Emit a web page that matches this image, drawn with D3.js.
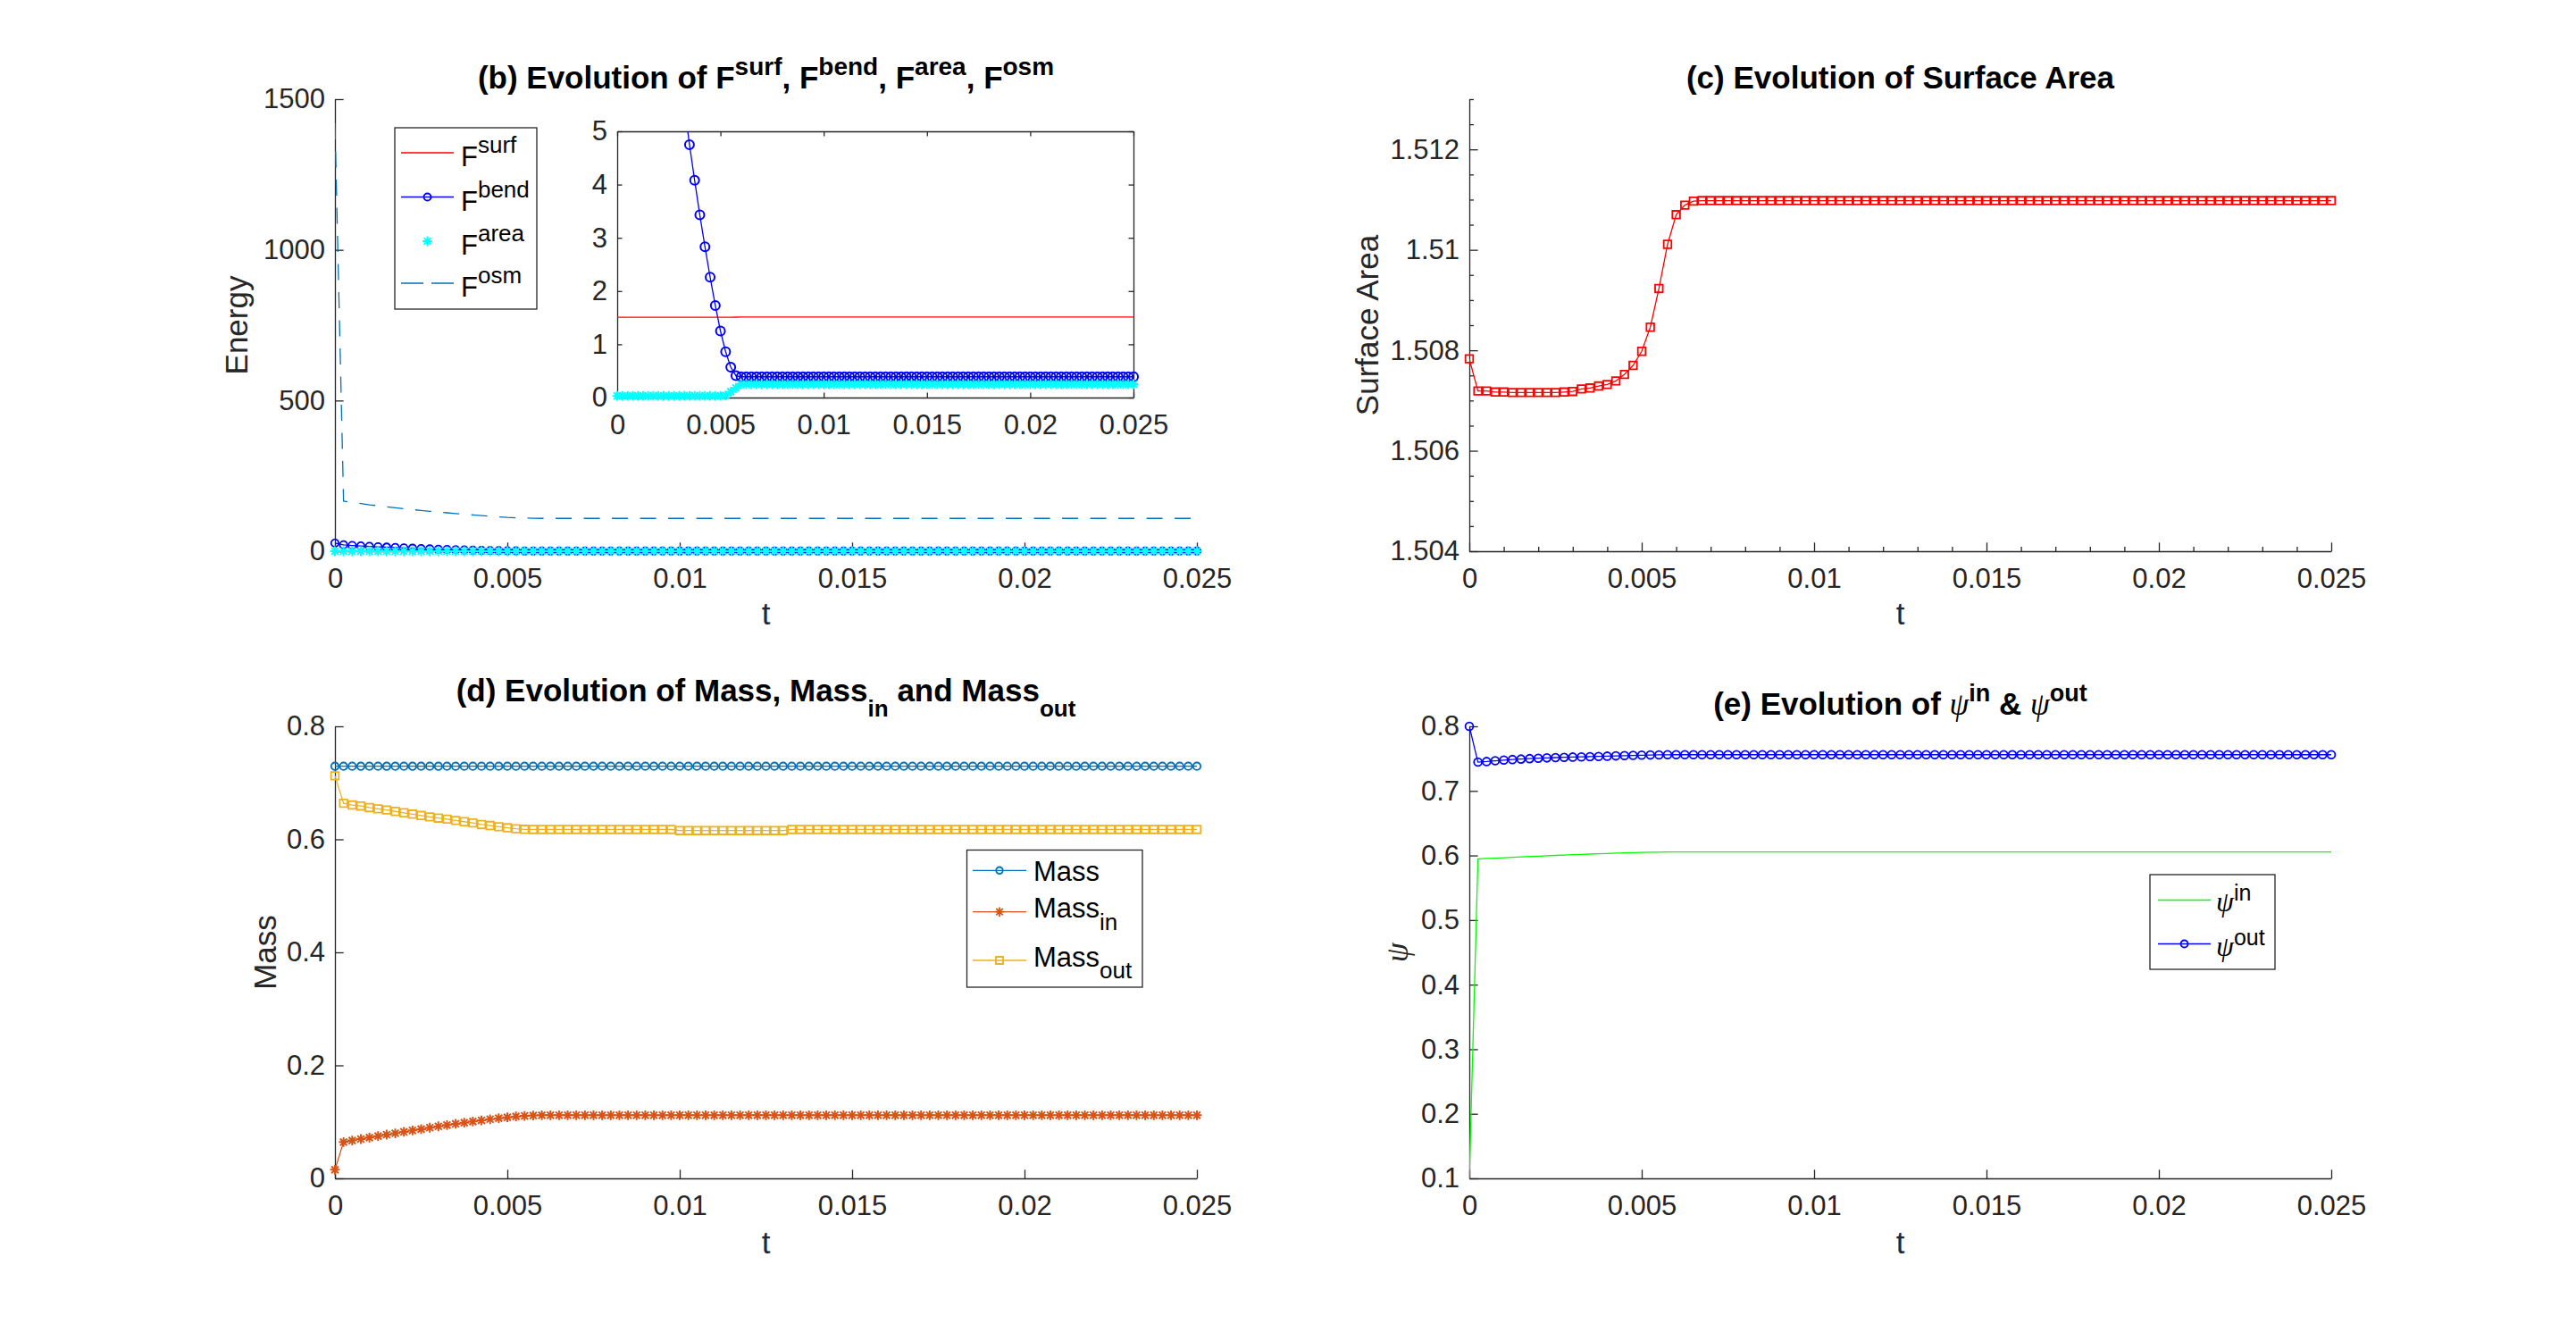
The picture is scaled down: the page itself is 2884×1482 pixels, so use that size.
<!DOCTYPE html>
<html>
<head>
<meta charset="utf-8">
<script src="https://cdn.jsdelivr.net/npm/d3@7/dist/d3.min.js"></script>
<style>
  html, body { margin: 0; padding: 0; background: #fff; }
  svg { display: block; }
</style>
</head>
<body>
<div class="js-board"></div>
<script>
// time steps (dt = 0.00025)
var tSteps = [
  0, 0.00025, 0.0005, 0.00075, 0.001, 0.00125, 0.0015, 0.00175, 0.002, 0.00225,
  0.0025, 0.00275, 0.003, 0.00325, 0.0035, 0.00375, 0.004, 0.00425, 0.0045, 0.00475,
  0.005, 0.00525, 0.0055, 0.00575, 0.006, 0.00625, 0.0065, 0.00675, 0.007, 0.00725,
  0.0075, 0.00775, 0.008, 0.00825, 0.0085, 0.00875, 0.009, 0.00925, 0.0095, 0.00975,
  0.01, 0.01025, 0.0105, 0.01075, 0.011, 0.01125, 0.0115, 0.01175, 0.012, 0.01225,
  0.0125, 0.01275, 0.013, 0.01325, 0.0135, 0.01375, 0.014, 0.01425, 0.0145, 0.01475,
  0.015, 0.01525, 0.0155, 0.01575, 0.016, 0.01625, 0.0165, 0.01675, 0.017, 0.01725,
  0.0175, 0.01775, 0.018, 0.01825, 0.0185, 0.01875, 0.019, 0.01925, 0.0195, 0.01975,
  0.02, 0.02025, 0.0205, 0.02075, 0.021, 0.02125, 0.0215, 0.02175, 0.022, 0.02225,
  0.0225, 0.02275, 0.023, 0.02325, 0.0235, 0.02375, 0.024, 0.02425, 0.0245, 0.02475,
  0.025
];

// (c) surface area
var surfaceArea = [
  1.50783, 1.50719, 1.50719, 1.50717, 1.50717, 1.50716, 1.50716, 1.50716, 1.50716, 1.50716,
  1.50716, 1.50717, 1.50718, 1.50723, 1.50725, 1.50729, 1.50732, 1.50739, 1.50752, 1.50770,
  1.50798, 1.50846, 1.50923, 1.51011, 1.51070, 1.51089, 1.51097, 1.51098, 1.51098, 1.51098,
  1.51098, 1.51098, 1.51098, 1.51098, 1.51098, 1.51098, 1.51098, 1.51098, 1.51098, 1.51098,
  1.51098, 1.51098, 1.51098, 1.51098, 1.51098, 1.51098, 1.51098, 1.51098, 1.51098, 1.51098,
  1.51098, 1.51098, 1.51098, 1.51098, 1.51098, 1.51098, 1.51098, 1.51098, 1.51098, 1.51098,
  1.51098, 1.51098, 1.51098, 1.51098, 1.51098, 1.51098, 1.51098, 1.51098, 1.51098, 1.51098,
  1.51098, 1.51098, 1.51098, 1.51098, 1.51098, 1.51098, 1.51098, 1.51098, 1.51098, 1.51098,
  1.51098, 1.51098, 1.51098, 1.51098, 1.51098, 1.51098, 1.51098, 1.51098, 1.51098, 1.51098,
  1.51098, 1.51098, 1.51098, 1.51098, 1.51098, 1.51098, 1.51098, 1.51098, 1.51098, 1.51098,
  1.51098
];

// (b) energies; F_surf tracks the surface area (sigma = 1)
var fSurf = surfaceArea;
var fBend = [
  27, 21, 19, 17.5, 16, 14.7, 13.4, 12.2, 11, 9.8,
  8.7, 7.6, 6.5, 5.5, 4.75, 4.08, 3.43, 2.83, 2.26, 1.73,
  1.25, 0.86, 0.57, 0.41, 0.39, 0.39, 0.39, 0.39, 0.39, 0.39,
  0.39, 0.39, 0.39, 0.39, 0.39, 0.39, 0.39, 0.39, 0.39, 0.39,
  0.39, 0.39, 0.39, 0.39, 0.39, 0.39, 0.39, 0.39, 0.39, 0.39,
  0.39, 0.39, 0.39, 0.39, 0.39, 0.39, 0.39, 0.39, 0.39, 0.39,
  0.39, 0.39, 0.39, 0.39, 0.39, 0.39, 0.39, 0.39, 0.39, 0.39,
  0.39, 0.39, 0.39, 0.39, 0.39, 0.39, 0.39, 0.39, 0.39, 0.39,
  0.39, 0.39, 0.39, 0.39, 0.39, 0.39, 0.39, 0.39, 0.39, 0.39,
  0.39, 0.39, 0.39, 0.39, 0.39, 0.39, 0.39, 0.39, 0.39, 0.39,
  0.39
];
var fArea = [
  0.03, 0.03, 0.03, 0.03, 0.03, 0.03, 0.03, 0.03, 0.03, 0.03,
  0.03, 0.03, 0.03, 0.03, 0.03, 0.03, 0.03, 0.03, 0.03, 0.03,
  0.03, 0.04, 0.11, 0.18, 0.25, 0.25, 0.25, 0.25, 0.25, 0.25,
  0.25, 0.25, 0.25, 0.25, 0.25, 0.25, 0.25, 0.25, 0.25, 0.25,
  0.25, 0.25, 0.25, 0.25, 0.25, 0.25, 0.25, 0.25, 0.25, 0.25,
  0.25, 0.25, 0.25, 0.25, 0.25, 0.25, 0.25, 0.25, 0.25, 0.25,
  0.25, 0.25, 0.25, 0.25, 0.25, 0.25, 0.25, 0.25, 0.25, 0.25,
  0.25, 0.25, 0.25, 0.25, 0.25, 0.25, 0.25, 0.25, 0.25, 0.25,
  0.25, 0.25, 0.25, 0.25, 0.25, 0.25, 0.25, 0.25, 0.25, 0.25,
  0.25, 0.25, 0.25, 0.25, 0.25, 0.25, 0.25, 0.25, 0.25, 0.25,
  0.25
];
var fOsm = [
  1420, 166, 162, 158, 154, 151, 147.5, 144, 141, 138,
  135, 132.5, 130, 127.5, 125, 122.5, 120.5, 118.5, 116, 114,
  112, 111, 110, 109.5, 109, 109, 109, 109, 109, 109,
  109, 109, 109, 109, 109, 109, 109, 109, 109, 109,
  109, 109, 109, 109, 109, 109, 109, 109, 109, 109,
  109, 109, 109, 109, 109, 109, 109, 109, 109, 109,
  109, 109, 109, 109, 109, 109, 109, 109, 109, 109,
  109, 109, 109, 109, 109, 109, 109, 109, 109, 109,
  109, 109, 109, 109, 109, 109, 109, 109, 109, 109,
  109, 109, 109, 109, 109, 109, 109, 109, 109, 109,
  109
];

// (d) masses
var mass = [
  0.7293, 0.7293, 0.7293, 0.7293, 0.7293, 0.7293, 0.7293, 0.7293, 0.7293, 0.7293,
  0.7293, 0.7293, 0.7293, 0.7293, 0.7293, 0.7293, 0.7293, 0.7293, 0.7293, 0.7293,
  0.7293, 0.7293, 0.7293, 0.7293, 0.7293, 0.7293, 0.7293, 0.7293, 0.7293, 0.7293,
  0.7293, 0.7293, 0.7293, 0.7293, 0.7293, 0.7293, 0.7293, 0.7293, 0.7293, 0.7293,
  0.7293, 0.7293, 0.7293, 0.7293, 0.7293, 0.7293, 0.7293, 0.7293, 0.7293, 0.7293,
  0.7293, 0.7293, 0.7293, 0.7293, 0.7293, 0.7293, 0.7293, 0.7293, 0.7293, 0.7293,
  0.7293, 0.7293, 0.7293, 0.7293, 0.7293, 0.7293, 0.7293, 0.7293, 0.7293, 0.7293,
  0.7293, 0.7293, 0.7293, 0.7293, 0.7293, 0.7293, 0.7293, 0.7293, 0.7293, 0.7293,
  0.7293, 0.7293, 0.7293, 0.7293, 0.7293, 0.7293, 0.7293, 0.7293, 0.7293, 0.7293,
  0.7293, 0.7293, 0.7293, 0.7293, 0.7293, 0.7293, 0.7293, 0.7293, 0.7293, 0.7293,
  0.7293
];
var massIn = [
  0.0153, 0.0643, 0.0670, 0.0696, 0.0722, 0.0749, 0.0775, 0.0798, 0.0823, 0.0849,
  0.0871, 0.0897, 0.0921, 0.0944, 0.0965, 0.0986, 0.1007, 0.1027, 0.1047, 0.1065,
  0.1081, 0.1096, 0.1106, 0.1113, 0.1117, 0.1118, 0.1118, 0.1118, 0.1118, 0.1118,
  0.1118, 0.1118, 0.1118, 0.1118, 0.1118, 0.1118, 0.1118, 0.1118, 0.1118, 0.1118,
  0.1118, 0.1118, 0.1118, 0.1118, 0.1118, 0.1118, 0.1118, 0.1118, 0.1118, 0.1118,
  0.1118, 0.1118, 0.1118, 0.1118, 0.1118, 0.1118, 0.1118, 0.1118, 0.1118, 0.1118,
  0.1118, 0.1118, 0.1118, 0.1118, 0.1118, 0.1118, 0.1118, 0.1118, 0.1118, 0.1118,
  0.1118, 0.1118, 0.1118, 0.1118, 0.1118, 0.1118, 0.1118, 0.1118, 0.1118, 0.1118,
  0.1118, 0.1118, 0.1118, 0.1118, 0.1118, 0.1118, 0.1118, 0.1118, 0.1118, 0.1118,
  0.1118, 0.1118, 0.1118, 0.1118, 0.1118, 0.1118, 0.1118, 0.1118, 0.1118, 0.1118,
  0.1118
];
var massOut = [
  0.7124, 0.6639, 0.6608, 0.6590, 0.6562, 0.6540, 0.6520, 0.6494, 0.6470, 0.6446,
  0.6422, 0.6398, 0.6376, 0.6358, 0.6334, 0.6312, 0.6290, 0.6262, 0.6244, 0.6223,
  0.6205, 0.6188, 0.6177, 0.6175, 0.6175, 0.6175, 0.6175, 0.6175, 0.6175, 0.6175,
  0.6175, 0.6175, 0.6175, 0.6175, 0.6175, 0.6175, 0.6175, 0.6175, 0.6175, 0.6175,
  0.6155, 0.6155, 0.6155, 0.6155, 0.6155, 0.6155, 0.6155, 0.6155, 0.6155, 0.6155,
  0.6155, 0.6155, 0.6155, 0.6175, 0.6175, 0.6175, 0.6175, 0.6175, 0.6175, 0.6175,
  0.6175, 0.6175, 0.6175, 0.6175, 0.6175, 0.6175, 0.6175, 0.6175, 0.6175, 0.6175,
  0.6175, 0.6175, 0.6175, 0.6175, 0.6175, 0.6175, 0.6175, 0.6175, 0.6175, 0.6175,
  0.6175, 0.6175, 0.6175, 0.6175, 0.6175, 0.6175, 0.6175, 0.6175, 0.6175, 0.6175,
  0.6175, 0.6175, 0.6175, 0.6175, 0.6175, 0.6175, 0.6175, 0.6175, 0.6175, 0.6175,
  0.6175
];

// (e) psi
var psiIn = [
  0.1, 0.5946, 0.5953, 0.5959, 0.5966, 0.5972, 0.5978, 0.5984, 0.5990, 0.5996,
  0.6001, 0.6007, 0.6012, 0.6017, 0.6022, 0.6027, 0.6031, 0.6036, 0.6040, 0.6043,
  0.6047, 0.6050, 0.6052, 0.6054, 0.6054, 0.6054, 0.6054, 0.6054, 0.6054, 0.6054,
  0.6054, 0.6054, 0.6054, 0.6054, 0.6054, 0.6054, 0.6054, 0.6054, 0.6054, 0.6054,
  0.6054, 0.6054, 0.6054, 0.6054, 0.6054, 0.6054, 0.6054, 0.6054, 0.6054, 0.6054,
  0.6054, 0.6054, 0.6054, 0.6054, 0.6054, 0.6054, 0.6054, 0.6054, 0.6054, 0.6054,
  0.6054, 0.6054, 0.6054, 0.6054, 0.6054, 0.6054, 0.6054, 0.6054, 0.6054, 0.6054,
  0.6054, 0.6054, 0.6054, 0.6054, 0.6054, 0.6054, 0.6054, 0.6054, 0.6054, 0.6054,
  0.6054, 0.6054, 0.6054, 0.6054, 0.6054, 0.6054, 0.6054, 0.6054, 0.6054, 0.6054,
  0.6054, 0.6054, 0.6054, 0.6054, 0.6054, 0.6054, 0.6054, 0.6054, 0.6054, 0.6054,
  0.6054
];
var psiOut = [
  0.8, 0.7446, 0.7455, 0.7467, 0.7477, 0.7486, 0.7493, 0.7500, 0.7506, 0.7511,
  0.7516, 0.7520, 0.7524, 0.7527, 0.7530, 0.7534, 0.7538, 0.7542, 0.7546, 0.7550,
  0.7553, 0.7556, 0.7558, 0.7560, 0.7561, 0.7561, 0.7561, 0.7561, 0.7561, 0.7561,
  0.7561, 0.7561, 0.7561, 0.7561, 0.7561, 0.7561, 0.7561, 0.7561, 0.7561, 0.7561,
  0.7561, 0.7561, 0.7561, 0.7561, 0.7561, 0.7561, 0.7561, 0.7561, 0.7561, 0.7561,
  0.7561, 0.7561, 0.7561, 0.7561, 0.7561, 0.7561, 0.7561, 0.7561, 0.7561, 0.7561,
  0.7561, 0.7561, 0.7561, 0.7561, 0.7561, 0.7561, 0.7561, 0.7561, 0.7561, 0.7561,
  0.7561, 0.7561, 0.7561, 0.7561, 0.7561, 0.7561, 0.7561, 0.7561, 0.7561, 0.7561,
  0.7561, 0.7561, 0.7561, 0.7561, 0.7561, 0.7561, 0.7561, 0.7561, 0.7561, 0.7561,
  0.7561, 0.7561, 0.7561, 0.7561, 0.7561, 0.7561, 0.7561, 0.7561, 0.7561, 0.7561,
  0.7561
];

// ticks
var tTicks = [0, 0.005, 0.01, 0.015, 0.02, 0.025];
var tTickLabels = ['0', '0.005', '0.01', '0.015', '0.02', '0.025'];
var tMinor = [0.001, 0.002, 0.003, 0.004, 0.006, 0.007, 0.008, 0.009, 0.011, 0.012,
  0.013, 0.014, 0.016, 0.017, 0.018, 0.019, 0.021, 0.022, 0.023, 0.024];
var energyTicks = [0, 500, 1000, 1500];
var energyTickLabels = ['0', '500', '1000', '1500'];
var insetTicks = [0, 1, 2, 3, 4, 5];
var insetTickLabels = ['0', '1', '2', '3', '4', '5'];
var areaTicks = [1.504, 1.506, 1.508, 1.51, 1.512];
var areaTickLabels = ['1.504', '1.506', '1.508', '1.51', '1.512'];
var areaMinor = [1.5045, 1.505, 1.5055, 1.5065, 1.507, 1.5075, 1.5085, 1.509, 1.5095,
  1.5105, 1.511, 1.5115, 1.5125, 1.513];
var massTicks = [0, 0.2, 0.4, 0.6, 0.8];
var massTickLabels = ['0', '0.2', '0.4', '0.6', '0.8'];
var psiTicks = [0.1, 0.2, 0.3, 0.4, 0.5, 0.6, 0.7, 0.8];
var psiTickLabels = ['0.1', '0.2', '0.3', '0.4', '0.5', '0.6', '0.7', '0.8'];

var W = 2884, H = 1482;
var SANS = '"Liberation Sans", Arial, Helvetica, sans-serif';
var SERIF = '"Liberation Serif", "DejaVu Serif", serif';
var AX = '#262626';
var TICK_FONT = 31;
var LABEL_FONT = 35;

var C_BLUE = '#0072BD', C_ORANGE = '#D95319', C_YELLOW = '#EDB120';

var svg = d3.select('.js-board')
  .append('svg')
  .attr('width', W)
  .attr('height', H);

var clipCount = 0;

function makeAxes(box, xDomain, yDomain, o) {
  var x = d3.scaleLinear().domain(xDomain).range([box.x, box.x + box.w]);
  var y = d3.scaleLinear().domain(yDomain).range([box.y + box.h, box.y]);
  var g = svg.append('g');
  var tl = o.tickLen || 9.65;
  var id = 'clip' + (clipCount++);

  g.append('clipPath').attr('id', id)
    .append('rect')
    .attr('x', box.x).attr('y', box.y)
    .attr('width', box.w).attr('height', box.h);

  if (o.fill) {
    g.append('rect')
      .attr('x', box.x).attr('y', box.y)
      .attr('width', box.w).attr('height', box.h)
      .attr('fill', '#fff');
  }

  function style(a) {
    a.attr('font-size', TICK_FONT).attr('font-family', SANS).attr('color', AX);
    a.selectAll('line, path').attr('stroke-width', 1.3);
  }

  var bottom = g.append('g')
    .attr('transform', 'translate(0,' + (box.y + box.h) + ')')
    .call(d3.axisBottom(x)
      .tickValues(o.xTicks)
      .tickFormat(function(d, i) { return o.xLabels[i]; })
      .tickSizeInner(-tl).tickSizeOuter(0).tickPadding(19));
  style(bottom);

  var left = g.append('g')
    .attr('transform', 'translate(' + box.x + ',0)')
    .call(d3.axisLeft(y)
      .tickValues(o.yTicks)
      .tickFormat(function(d, i) { return o.yLabels[i]; })
      .tickSizeInner(-tl).tickSizeOuter(0).tickPadding(11));
  style(left);

  if (o.xMinor) {
    var mb = g.append('g')
      .attr('transform', 'translate(0,' + (box.y + box.h) + ')')
      .call(d3.axisBottom(x).tickValues(o.xMinor).tickFormat('').tickSizeInner(-5).tickSizeOuter(0));
    mb.select('.domain').remove();
    style(mb);
  }
  if (o.yMinor) {
    var ml = g.append('g')
      .attr('transform', 'translate(' + box.x + ',0)')
      .call(d3.axisLeft(y).tickValues(o.yMinor).tickFormat('').tickSizeInner(-5).tickSizeOuter(0));
    ml.select('.domain').remove();
    style(ml);
  }

  if (o.box) {
    var top = g.append('g')
      .attr('transform', 'translate(0,' + box.y + ')')
      .call(d3.axisTop(x).tickValues(o.xTicks).tickFormat('').tickSizeInner(-tl).tickSizeOuter(0));
    style(top);
    var right = g.append('g')
      .attr('transform', 'translate(' + (box.x + box.w) + ',0)')
      .call(d3.axisRight(y).tickValues(o.yTicks).tickFormat('').tickSizeInner(-tl).tickSizeOuter(0));
    style(right);
  }

  return { x: x, y: y, g: g, clip: id, box: box };
}

function markerPath(type, cx, cy, s) {
  if (type === 'o') {
    return 'M' + (cx - s) + ',' + cy +
      'a' + s + ',' + s + ' 0 1,0 ' + (2 * s) + ',0' +
      'a' + s + ',' + s + ' 0 1,0 ' + (-2 * s) + ',0Z';
  }
  if (type === 's') {
    return 'M' + (cx - s) + ',' + (cy - s) + 'h' + (2 * s) + 'v' + (2 * s) + 'h' + (-2 * s) + 'Z';
  }
  // asterisk
  var d = s * 0.72;
  return 'M' + (cx - s) + ',' + cy + 'H' + (cx + s) +
    'M' + cx + ',' + (cy - s) + 'V' + (cy + s) +
    'M' + (cx - d) + ',' + (cy - d) + 'L' + (cx + d) + ',' + (cy + d) +
    'M' + (cx - d) + ',' + (cy + d) + 'L' + (cx + d) + ',' + (cy - d);
}

function plotSeries(ax, xs, ys, o) {
  var pts = xs.map(function(t, i) { return [t, ys[i]]; });
  if (o.line) {
    ax.g.append('path')
      .datum(pts)
      .attr('d', d3.line().x(function(d) { return ax.x(d[0]); }).y(function(d) { return ax.y(d[1]); }))
      .attr('fill', 'none')
      .attr('stroke', o.color)
      .attr('stroke-width', o.lw || 1.3)
      .attr('stroke-dasharray', o.dash || null)
      .attr('clip-path', 'url(#' + ax.clip + ')');
  }
  if (o.marker) {
    var yd = ax.y.domain(), xd = ax.x.domain();
    var vis = pts.filter(function(d) {
      return d[1] >= yd[0] && d[1] <= yd[1] && d[0] >= xd[0] && d[0] <= xd[1];
    });
    ax.g.selectAll(null)
      .data(vis)
      .enter()
      .append('path')
      .attr('d', function(d) { return markerPath(o.marker, ax.x(d[0]), ax.y(d[1]), o.size); })
      .attr('fill', 'none')
      .attr('stroke', o.color)
      .attr('stroke-width', o.mw || 1.8);
  }
}

// text with super/subscripts
function rich(sel, parts, st) {
  var off = 0;
  parts.forEach(function(p) {
    var target = p.sup ? -st.supShift : (p.sub ? st.subShift : 0);
    var ts = sel.append('tspan')
      .attr('dy', target - off)
      .attr('font-size', (p.sup || p.sub) ? st.small : (p.psi ? (st.psiSize || st.size) : st.size))
      .text(p.t);
    if (p.psi) {
      ts.attr('font-family', SERIF).attr('font-style', 'italic').attr('font-weight', 'normal');
    }
    off = target;
  });
}

function title(ax, yBase, parts, st) {
  var t = svg.append('text')
    .attr('x', ax.box.x + ax.box.w / 2)
    .attr('y', yBase)
    .attr('text-anchor', 'middle')
    .attr('font-family', SANS)
    .attr('font-weight', 'bold')
    .attr('fill', '#000');
  rich(t, parts, st);
}

function labels(ax, xlabelY, ylabelX, ytext, ySerif) {
  svg.append('text')
    .attr('x', ax.box.x + ax.box.w / 2)
    .attr('y', xlabelY)
    .attr('text-anchor', 'middle')
    .attr('font-family', SANS)
    .attr('font-size', LABEL_FONT)
    .attr('fill', AX)
    .text('t');
  svg.append('text')
    .attr('transform', 'translate(' + ylabelX + ',' + (ax.box.y + ax.box.h / 2) + ') rotate(-90)')
    .attr('text-anchor', 'middle')
    .attr('font-family', ySerif ? SERIF : SANS)
    .attr('font-style', ySerif ? 'italic' : 'normal')
    .attr('font-size', LABEL_FONT)
    .attr('fill', AX)
    .text(ytext);
}

function legend(box, entries, lx1, lx2, tx, st) {
  var g = svg.append('g');
  g.append('rect')
    .attr('x', box.x).attr('y', box.y)
    .attr('width', box.w).attr('height', box.h)
    .attr('fill', '#fff')
    .attr('stroke', AX)
    .attr('stroke-width', 1.3);
  entries.forEach(function(e) {
    if (e.line) {
      g.append('line')
        .attr('x1', lx1).attr('x2', lx2)
        .attr('y1', e.y).attr('y2', e.y)
        .attr('stroke', e.color)
        .attr('stroke-width', 1.3)
        .attr('stroke-dasharray', e.dash || null);
    }
    if (e.marker) {
      g.append('path')
        .attr('d', markerPath(e.marker, (lx1 + lx2) / 2, e.y, e.size))
        .attr('fill', 'none')
        .attr('stroke', e.color)
        .attr('stroke-width', 1.8);
    }
    var t = g.append('text')
      .attr('x', tx)
      .attr('y', e.y + e.base)
      .attr('font-family', SANS)
      .attr('fill', '#000');
    rich(t, e.parts, st);
  });
}

// ---------- (b) energies ----------
var axB = makeAxes({ x: 375, y: 111, w: 965, h: 506 }, [0, 0.025], [0, 1500], {
  xTicks: tTicks, xLabels: tTickLabels, yTicks: energyTicks, yLabels: energyTickLabels
});
plotSeries(axB, tSteps, fSurf, { line: true, color: '#ff0000' });
plotSeries(axB, tSteps, fBend, { line: true, color: '#0000ff', marker: 'o', size: 4.2 });
plotSeries(axB, tSteps, fArea, { color: '#00ffff', marker: '*', size: 5.4, mw: 2 });
plotSeries(axB, tSteps, fOsm, { line: true, color: C_BLUE, dash: '18,13.5' });
title(axB, 99, [
  { t: '(b) Evolution of F' }, { t: 'surf', sup: 1 }, { t: ', F' }, { t: 'bend', sup: 1 },
  { t: ', F' }, { t: 'area', sup: 1 }, { t: ', F' }, { t: 'osm', sup: 1 }
], { size: 35, small: 28, supShift: 15.5 });
labels(axB, 699, 277, 'Energy');

// inset
var axI = makeAxes({ x: 691, y: 147, w: 578, h: 298 }, [0, 0.025], [0, 5], {
  xTicks: tTicks, xLabels: tTickLabels, yTicks: insetTicks, yLabels: insetTickLabels,
  box: true, fill: true, tickLen: 5.5
});
plotSeries(axI, tSteps, fSurf, { line: true, color: '#ff0000' });
plotSeries(axI, tSteps, fBend, { line: true, color: '#0000ff', marker: 'o', size: 5, mw: 2 });
plotSeries(axI, tSteps, fArea, { color: '#00ffff', marker: '*', size: 5.4, mw: 2 });
plotSeries(axI, tSteps, fOsm, { line: true, color: C_BLUE, dash: '18,13.5' });

legend({ x: 442, y: 143, w: 159, h: 203 }, [
  { y: 171, line: true, color: '#ff0000', base: 15, parts: [{ t: 'F' }, { t: 'surf', sup: 1 }] },
  { y: 220.5, line: true, color: '#0000ff', marker: 'o', size: 4, base: 15, parts: [{ t: 'F' }, { t: 'bend', sup: 1 }] },
  { y: 270, color: '#00ffff', marker: '*', size: 5.4, base: 15, parts: [{ t: 'F' }, { t: 'area', sup: 1 }] },
  { y: 317, line: true, color: C_BLUE, dash: '25,9', base: 15, parts: [{ t: 'F' }, { t: 'osm', sup: 1 }] }
], 449, 508, 516, { size: 31, small: 26, supShift: 15 });

// ---------- (c) surface area ----------
var axC = makeAxes({ x: 1645, y: 111, w: 965, h: 506 }, [0, 0.025], [1.504, 1.513], {
  xTicks: tTicks, xLabels: tTickLabels, yTicks: areaTicks, yLabels: areaTickLabels,
  xMinor: tMinor, yMinor: areaMinor
});
plotSeries(axC, tSteps, surfaceArea, { line: true, color: '#ff0000', marker: 's', size: 4.3 });
title(axC, 99, [{ t: '(c) Evolution of Surface Area' }], { size: 35, small: 26, supShift: 15 });
labels(axC, 699, 1543, 'Surface Area');

// ---------- (d) masses ----------
var axD = makeAxes({ x: 375, y: 813, w: 965, h: 506 }, [0, 0.025], [0, 0.8], {
  xTicks: tTicks, xLabels: tTickLabels, yTicks: massTicks, yLabels: massTickLabels
});
plotSeries(axD, tSteps, mass, { line: true, color: C_BLUE, marker: 'o', size: 4.2 });
plotSeries(axD, tSteps, massIn, { line: true, color: C_ORANGE, marker: '*', size: 5.4, mw: 2 });
plotSeries(axD, tSteps, massOut, { line: true, color: C_YELLOW, marker: 's', size: 4.3 });
title(axD, 785, [
  { t: '(d) Evolution of Mass, Mass' }, { t: 'in', sub: 1 }, { t: ' and Mass' }, { t: 'out', sub: 1 }
], { size: 35, small: 26, subShift: 17 });
labels(axD, 1403, 309, 'Mass');

legend({ x: 1082.5, y: 951.5, w: 196.5, h: 153.5 }, [
  { y: 974.3, line: true, color: C_BLUE, marker: 'o', size: 3.8, base: 11.7, parts: [{ t: 'Mass' }] },
  { y: 1020.7, line: true, color: C_ORANGE, marker: '*', size: 5.2, base: 6.6, parts: [{ t: 'Mass' }, { t: 'in', sub: 1 }] },
  { y: 1075, line: true, color: C_YELLOW, marker: 's', size: 4, base: 6.7, parts: [{ t: 'Mass' }, { t: 'out', sub: 1 }] }
], 1089, 1149, 1157, { size: 31, small: 26, subShift: 13.4 });

// ---------- (e) psi ----------
var axE = makeAxes({ x: 1645, y: 813, w: 965, h: 506 }, [0, 0.025], [0.1, 0.8], {
  xTicks: tTicks, xLabels: tTickLabels, yTicks: psiTicks, yLabels: psiTickLabels
});
plotSeries(axE, tSteps, psiIn, { line: true, color: '#00ff00' });
plotSeries(axE, tSteps, psiOut, { line: true, color: '#0000ff', marker: 'o', size: 4.4 });
title(axE, 800, [
  { t: '(e) Evolution of ' }, { t: 'ψ', psi: 1 }, { t: 'in', sup: 1 }, { t: ' & ' },
  { t: 'ψ', psi: 1 }, { t: 'out', sup: 1 }
], { size: 35, small: 27, supShift: 15 });
labels(axE, 1403, 1576, 'ψ', true);

legend({ x: 2407, y: 979, w: 140, h: 106 }, [
  { y: 1007.5, line: true, color: '#00ff00', base: 12, parts: [{ t: 'ψ', psi: 1 }, { t: 'in', sup: 1 }] },
  { y: 1056.5, line: true, color: '#0000ff', marker: 'o', size: 4, base: 13, parts: [{ t: 'ψ', psi: 1 }, { t: 'out', sup: 1 }] }
], 2416, 2475, 2481, { size: 31, small: 25, supShift: 12, psiSize: 32 });
</script>
</body>
</html>
